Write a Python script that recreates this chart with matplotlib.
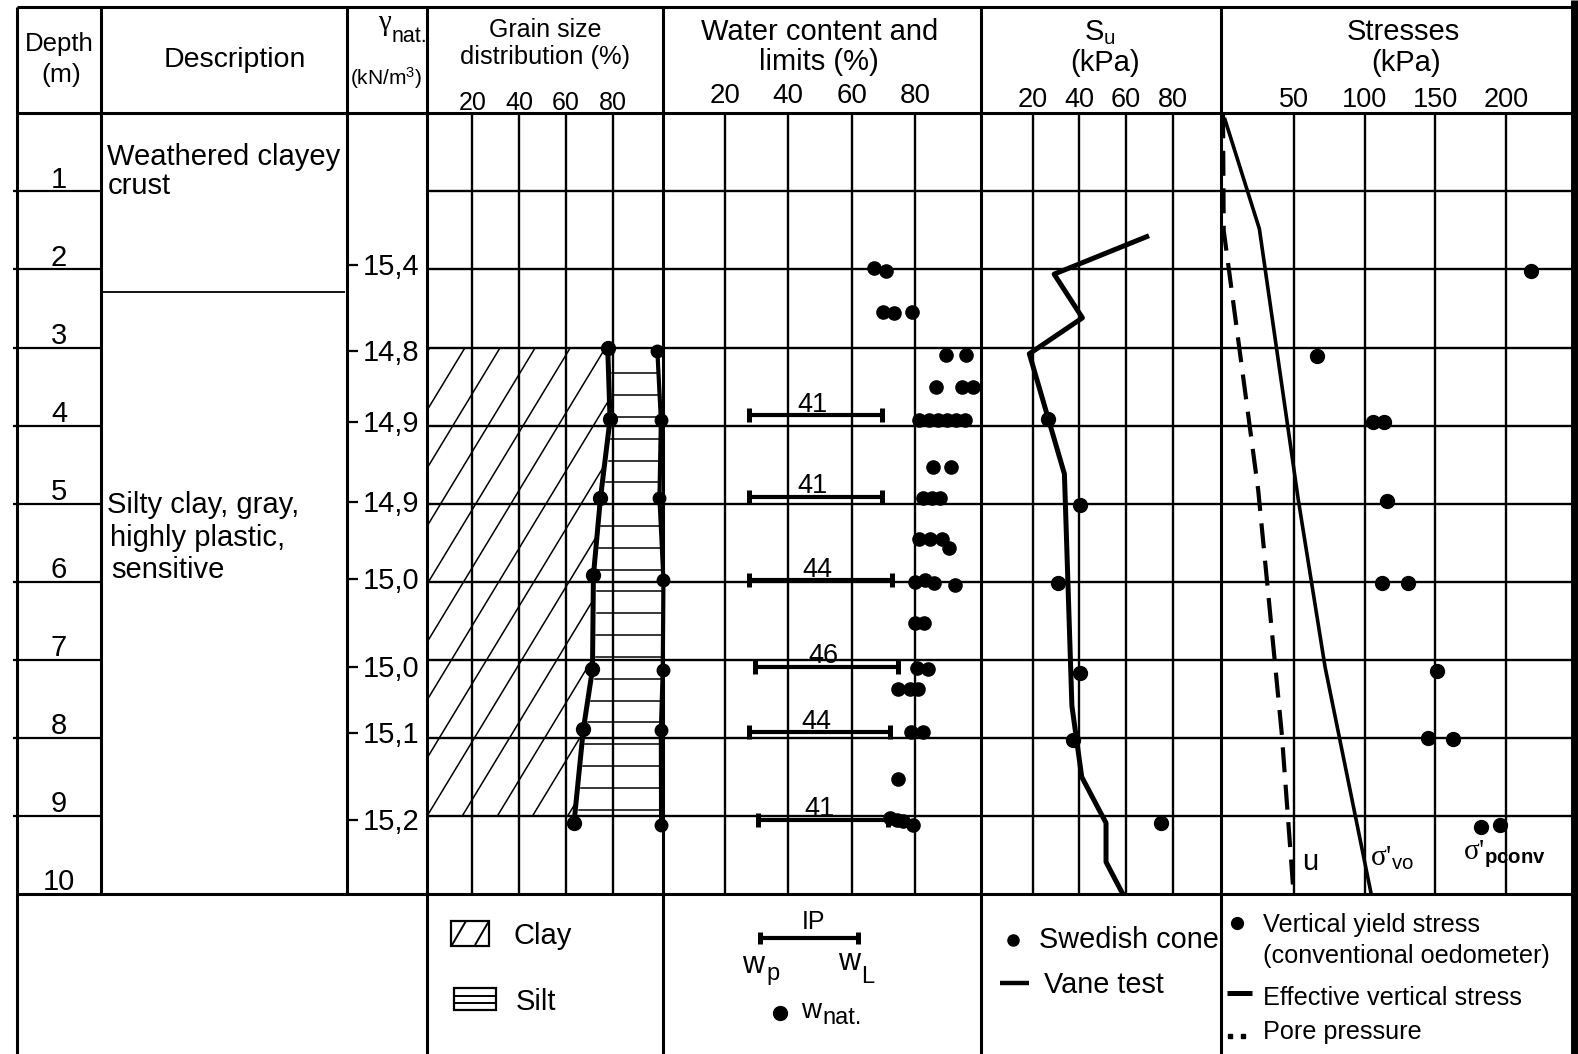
import numpy as np
import matplotlib
matplotlib.use("Agg")
import matplotlib.pyplot as plt
from matplotlib.patches import Polygon, Rectangle
from matplotlib import transforms

plt.rcParams['font.family'] = ['Liberation Sans', 'DejaVu Sans']
plt.rcParams['mathtext.fontset'] = 'custom'
plt.rcParams['mathtext.rm'] = 'Liberation Sans'
plt.rcParams['mathtext.it'] = 'Liberation Sans'
plt.rcParams['mathtext.sf'] = 'Liberation Sans'
plt.rcParams['mathtext.bf'] = 'Liberation Sans:bold'
plt.rcParams['mathtext.default'] = 'regular'

# --- log data (depth in m) ---
depth_ticks = [1, 2, 3, 4, 5, 6, 7, 8, 9, 10]
crust_bottom = 2.29

gamma_depth = [1.94, 3.04, 3.96, 4.98, 5.97, 7.09, 7.94, 9.05]
gamma_nat = [15.4, 14.8, 14.9, 14.9, 15.0, 15.0, 15.1, 15.2]

# grain size: clay % and clay+silt %
clay_depth = [3.0, 3.92, 4.93, 5.92, 7.12, 7.89, 9.09]
clay_pct = [77.8, 78.8, 74.7, 71.7, 71.3, 67.4, 63.4]
silt_depth = [3.04, 3.93, 4.93, 5.98, 7.13, 7.90, 9.12]
clay_silt_pct = [99.0, 100.5, 99.9, 101.6, 101.3, 100.5, 100.6]
hatch_top, hatch_bot = 3.0, 9.0

# water content
wnat_depth = [1.98, 2.02, 2.54, 2.56, 2.54, 3.09, 3.09, 3.50, 3.50, 3.50,
              3.93, 3.93, 3.93, 3.93, 3.93, 3.93, 4.53, 4.53, 4.93, 4.93, 4.93,
              5.45, 5.45, 5.45, 5.57, 6.00, 5.98, 6.02, 6.04, 6.53, 6.53,
              7.11, 7.12, 7.37, 7.37, 7.38, 7.93, 7.92, 8.53, 9.03, 9.05, 9.07, 9.11]
wnat = [67.1, 70.8, 69.8, 73.4, 78.9, 89.7, 96.1, 86.6, 94.7, 98.4,
        81.4, 84.3, 87.2, 90.1, 93.0, 95.9, 85.6, 91.3, 82.6, 85.3, 87.9,
        81.3, 84.7, 88.4, 90.8, 80.0, 83.1, 86.0, 92.6, 80.0, 82.8,
        80.5, 84.2, 74.5, 78.4, 81.0, 78.6, 82.4, 74.5, 72.1, 74.2, 76.3, 79.3]
ip_depth = [3.87, 4.91, 5.98, 7.09, 7.93, 9.05]
w_p = [27.7, 27.7, 27.7, 29.5, 27.7, 30.3]
w_L = [69.5, 69.5, 72.8, 74.5, 72.1, 71.6]
ip_label = [41, 41, 44, 46, 44, 41]

# undrained shear strength
vane_depth = [1.58, 2.06, 2.62, 3.08, 4.62, 7.59, 8.50, 9.09, 9.59, 10.03]
vane_su = [68.8, 29.2, 41.3, 18.6, 33.6, 36.8, 41.0, 51.4, 51.4, 59.1]
cone_depth = [3.92, 5.02, 6.01, 7.17, 8.03, 9.09]
cone_su = [26.7, 40.3, 30.8, 40.3, 37.2, 74.8]

# stresses
sv_depth = [0.08, 1.48, 4.95, 7.09, 10.0]
sigma_v_eff = [1.4, 25.7, 53.2, 72.1, 104.7]
u_depth = [0.0, 1.5, 4.83, 7.94, 10.0]
u_pore = [0.0, 0.5, 24.9, 41.5, 49.9]
yield_depth = [2.02, 3.11, 3.95, 3.95, 4.96, 6.02, 6.02, 7.14, 8.0, 8.02, 9.14, 9.12]
sigma_p = [217.4, 66.7, 106.2, 113.8, 115.7, 112.2, 131.0, 151.0, 145.1, 162.3, 182.1, 195.8]

# --- layout (pixels) ---
W, H = 1578, 1054
y_top, y_head, y_body = 7.3, 113.3, 894.0
x_cols = [16.7, 101.0, 346.7, 426.7, 663.2, 981.2, 1220.8, 1574.0]

fig = plt.figure(figsize=(W / 100, H / 100), dpi=100)
bg = fig.add_axes([0, 0, 1, 1])
bg.set_xlim(0, W)
bg.set_ylim(H, 0)
bg.axis('off')


def seg(xs, ys, lw=2.2, **kw):
    bg.plot(xs, ys, color='k', lw=lw, solid_capstyle='butt', **kw)


def txt(x, y, s, fs, ha='center', **kw):
    bg.text(x, y, s, fontsize=fs, ha=ha, va='baseline', **kw)


# table frame
for y in (y_top, y_head, y_body):
    seg([x_cols[0], x_cols[-1]], [y, y])
for x in x_cols[:-1]:
    seg([x, x], [y_top, y_body if x in (101.0, 346.7) else H])
seg([x_cols[-1], x_cols[-1]], [0, H], lw=5)


def body_axes(x0, x1, xlim):
    ax = fig.add_axes([x0 / W, 1 - y_body / H, (x1 - x0) / W, (y_body - y_head) / H])
    ax.set_xlim(*xlim)
    ax.set_ylim(10, 0)
    ax.axis('off')
    return ax


# left strip: depth, description, unit weight (x in pixels)
left = body_axes(0, x_cols[3], (0, x_cols[3]))
left.hlines(depth_ticks[:-1], 13, 101, color='k', lw=1.6)
up = transforms.offset_copy(left.transData, fig=fig, y=3.5, units='dots')
for d in depth_ticks:
    left.text(59, d, str(d), transform=up, ha='center', va='baseline', fontsize=21)
left.hlines(crust_bottom, 103, 345, color='k', lw=1.3)
left.hlines(gamma_depth, 347, 358, color='k', lw=1.6)
down = transforms.offset_copy(left.transData, fig=fig, y=-10, units='dots')
for d, g in zip(gamma_depth, gamma_nat):
    left.text(363, d, f"{g:.1f}".replace('.', ','), transform=down,
              ha='left', va='baseline', fontsize=21)

txt(107, 165, "Weathered clayey", 21, ha='left')
txt(108, 194, "crust", 21, ha='left')
txt(106.7, 513, "Silty clay, gray,", 21, ha='left')
txt(110, 546, "highly plastic,", 21, ha='left')
txt(111.7, 578.5, "sensitive", 21, ha='left')

# header texts
txt(59, 50.7, "Depth", 18.5)
txt(61.7, 81.7, "(m)", 19)
txt(235, 66.7, "Description", 20.5)
txt(384, 30, "γ", 21, family='Liberation Serif')
txt(392, 42, "nat.", 15.5, ha='left')
txt(386, 85, "(kN/m$^3$)", 15)
txt(545.5, 37, "Grain size", 18)
txt(545.5, 64, "distribution (%)", 18.4)
txt(820, 40, "Water content and", 21)
txt(819, 69.5, "limits (%)", 21)
txt(1100, 40, "$S_u$", 21)
txt(1105, 71, "(kPa)", 21)
txt(1403, 40, "Stresses", 21)
txt(1406, 71, "(kPa)", 21)


def panel(x0, x1, xlim, grid, y_nums, fs_nums):
    ax = body_axes(x0, x1, xlim)
    for g in grid:
        ax.axvline(g, color='k', lw=1.7)
    for d in depth_ticks[:-1]:
        ax.axhline(d, color='k', lw=1.7)
    tr = transforms.blended_transform_factory(ax.transData, bg.transData)
    for g in grid:
        bg.text(g, y_nums, str(g), transform=tr, ha='center', va='baseline', fontsize=fs_nums)
    return ax


# grain size distribution
ax_g = panel(x_cols[3], x_cols[4], (0.5, 101.5), [20, 40, 60, 80], 110, 18)
d_in = [d for d in clay_depth if hatch_top < d < hatch_bot]
clay_edge = [(np.interp(d, clay_depth, clay_pct), d) for d in [hatch_top] + d_in + [hatch_bot]]
clay_poly = Polygon([(0, hatch_top)] + clay_edge + [(0, hatch_bot)], closed=True,
                    transform=ax_g.transData)
slope = 20.2  # % per m of the clay hatch
for x0 in np.arange(0.7 - 15 * 9, 100, 15.0):
    ln, = ax_g.plot([x0, x0 + slope * (hatch_bot - hatch_top)], [hatch_bot, hatch_top],
                    color='k', lw=1.1)
    ln.set_clip_path(clay_poly)
for d in np.linspace(3.33, 8.92, 21):
    xa = np.interp(d, clay_depth, clay_pct) + 1.5
    xb = np.interp(d, silt_depth, clay_silt_pct) - 0.5
    ax_g.plot([xa, xb], [d, d], color='k', lw=1.1)
ax_g.plot(clay_pct, clay_depth, '-o', color='k', lw=3.6, ms=10, clip_on=False)
ax_g.plot(clay_silt_pct, silt_depth, '-o', color='k', lw=3.0, ms=9, clip_on=False)

# water content and limits
ax_w = panel(x_cols[4], x_cols[5], (0.5, 100.9), [20, 40, 60, 80], 103, 20)
ax_w.hlines(ip_depth, w_p, w_L, color='k', lw=3.0)
ax_w.plot(w_p, ip_depth, '|', color='k', ms=9.6, mew=3.6)
ax_w.plot(w_L, ip_depth, '|', color='k', ms=9.6, mew=3.6)
up_w = transforms.offset_copy(ax_w.transData, fig=fig, y=3.5, units='dots')
for d, a, b, lab in zip(ip_depth, w_p, w_L, ip_label):
    ax_w.text((a + b) / 2 - 1, d, str(lab), transform=up_w, ha='center',
              va='baseline', fontsize=19.5)
ax_w.plot(wnat, wnat_depth, 'o', color='k', ms=9.5, clip_on=False)

# undrained shear strength
ax_s = panel(x_cols[5], x_cols[6], (-2.0, 100.5), [20, 40, 60, 80], 107, 19.5)
ax_s.plot(vane_su, vane_depth, color='k', lw=3.6)
ax_s.plot(cone_su, cone_depth, 'o', color='k', ms=10)

# stresses
ax_t = panel(x_cols[6], x_cols[7], (-1.55, 248), [50, 100, 150, 200], 107, 19.5)
ax_t.plot(sigma_v_eff, sv_depth, color='k', lw=2.6)
ax_t.plot(u_pore, u_depth, color='k', lw=3.0, ls=(0, (6, 3)))
ax_t.plot(sigma_p, yield_depth, 'o', color='k', ms=10)
ax_t.text(u_pore[-1] + 6, 9.69, "u", fontsize=21, va='baseline')
ax_t.text(sigma_v_eff[-1] - 1, 9.64, "σ'$_{\\mathsf{vo}}$", fontsize=21, va='baseline',
          family=['Liberation Serif', 'DejaVu Sans'])
ax_t.text(169.6, 9.55, "σ'$_{\\mathbf{pconv}}$", fontsize=21, va='baseline',
          family=['Liberation Serif', 'DejaVu Sans'])

# --- legend row ---
bg.add_patch(Rectangle((451, 921), 38, 25, fill=False, lw=1.6))
seg([452, 466], [945, 921], lw=1.4)
seg([475, 489], [945, 921], lw=1.4)
txt(514, 944.3, "Clay", 21, ha='left')
bg.add_patch(Rectangle((454, 988), 42, 22, fill=False, lw=1.6))
seg([454, 496], [995.5, 995.5], lw=1.4)
seg([454, 496], [1003, 1003], lw=1.4)
txt(516, 1010, "Silt", 21, ha='left')

seg([759.6, 858.4], [937.7, 937.7], lw=3.0)
seg([760, 760], [932, 943.5], lw=3.6)
seg([858, 858], [932, 943.5], lw=3.6)
txt(814, 929, "IP", 18)
txt(742, 973, "w", 22, ha='left')
txt(766, 980, "p", 17, ha='left')
txt(838, 970, "w", 22, ha='left')
txt(861, 983, "L", 17, ha='left')
bg.plot(779.6, 1013.3, 'o', color='k', ms=10)
txt(801, 1018.3, "w", 20, ha='left')
txt(822, 1024.5, "nat.", 17, ha='left')

bg.plot(1013, 940, 'o', color='k', ms=8)
txt(1038.7, 948.3, "Swedish cone", 20.8, ha='left')
seg([1000, 1028.7], [983.3, 983.3], lw=3.2)
txt(1044, 993.3, "Vane test", 20.8, ha='left')

bg.plot(1237, 923, 'o', color='k', ms=8.5)
txt(1263.5, 931.7, "Vertical yield stress", 18.2, ha='left')
txt(1263.5, 962.5, "(conventional oedometer)", 18.2, ha='left')
seg([1226.7, 1252.5], [992.7, 992.7], lw=3.6)
txt(1263.5, 1005, "Effective vertical stress", 18.2, ha='left')
bg.plot([1229.6, 1243.2], [1036, 1036], 's', color='k', ms=3.5)
txt(1263.5, 1038.5, "Pore pressure", 18.2, ha='left')

fig.savefig("out.png", dpi=100)
